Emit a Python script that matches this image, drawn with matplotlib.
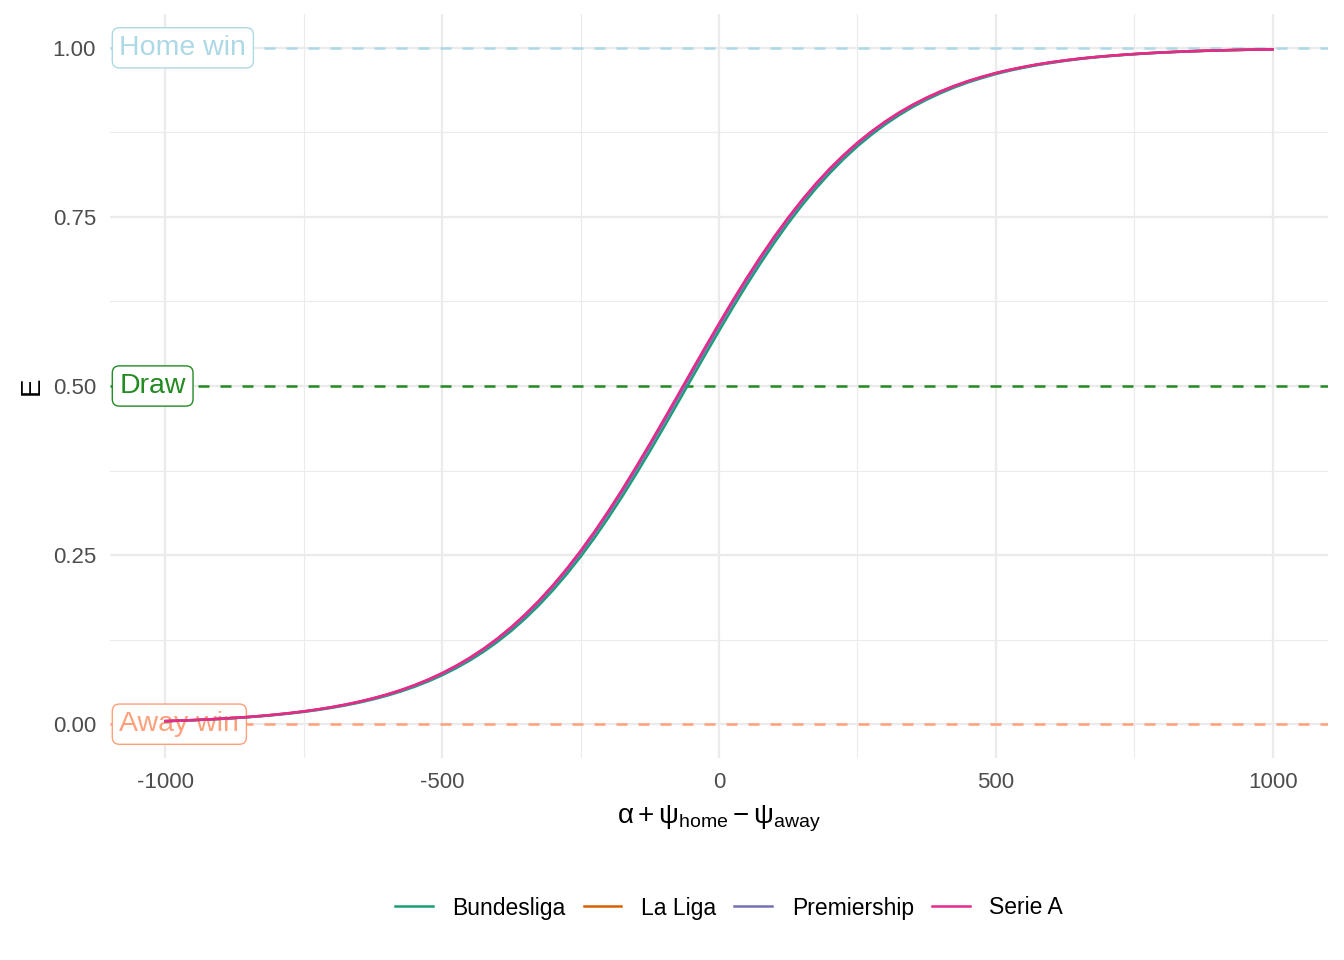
import matplotlib
matplotlib.use("Agg")
import matplotlib.pyplot as plt
from matplotlib.lines import Line2D

plt.rcParams['font.family'] = ['Liberation Sans', 'DejaVu Sans']
plt.rcParams['mathtext.fontset'] = 'custom'
plt.rcParams['mathtext.rm'] = 'Liberation Sans'
plt.rcParams['mathtext.it'] = 'Liberation Sans:italic'
plt.rcParams['mathtext.bf'] = 'Liberation Sans:bold'
plt.rcParams['axes.unicode_minus'] = False

x_vals = list(range(-1000, 1001, 25))

serie_a = [0.00458, 0.00528, 0.00609, 0.00703, 0.00811, 0.00935, 0.01078, 0.01243,
           0.01433, 0.01651, 0.01902, 0.02190, 0.02520, 0.02899, 0.03332, 0.03829,
           0.04395, 0.05040, 0.05777, 0.06610, 0.07559, 0.08628, 0.09830, 0.1118,
           0.1269, 0.1437, 0.1624, 0.1829, 0.2054, 0.2299, 0.2563, 0.2847,
           0.3149, 0.3467, 0.3801, 0.4145, 0.4498, 0.4856, 0.5216, 0.5573,
           0.5924, 0.6267, 0.6597, 0.6912, 0.7211, 0.7491, 0.7752, 0.7993,
           0.8214, 0.8415, 0.8598, 0.8762, 0.8910, 0.9042, 0.9160, 0.9264,
           0.9356, 0.9438, 0.9510, 0.9572, 0.9628, 0.9676, 0.9718, 0.9755,
           0.9787, 0.9815, 0.9840, 0.9861, 0.9879, 0.9895, 0.9909, 0.9921,
           0.9932, 0.9941, 0.9949, 0.9956, 0.9961, 0.9967, 0.9971, 0.9975, 0.9978]

bundesliga = [0.00437, 0.00504, 0.00581, 0.00671, 0.00774, 0.00892, 0.01029, 0.01187,
              0.01368, 0.01576, 0.01816, 0.02091, 0.02407, 0.02770, 0.03184, 0.03660,
              0.04201, 0.04820, 0.05526, 0.06326, 0.07237, 0.08265, 0.09422, 0.1072,
              0.1218, 0.1380, 0.1561, 0.1760, 0.1979, 0.2218, 0.2475, 0.2753,
              0.3050, 0.3363, 0.3693, 0.4033, 0.4384, 0.4741, 0.5101, 0.5460,
              0.5813, 0.6159, 0.6494, 0.6814, 0.7118, 0.7405, 0.7672, 0.7919,
              0.8146, 0.8354, 0.8543, 0.8712, 0.8865, 0.9002, 0.9125, 0.9233,
              0.9328, 0.9414, 0.9489, 0.9553, 0.9612, 0.9662, 0.9705, 0.9744,
              0.9777, 0.9807, 0.9833, 0.9855, 0.9874, 0.9890, 0.9905, 0.9917,
              0.9929, 0.9938, 0.9947, 0.9954, 0.9959, 0.9965, 0.9970, 0.9974, 0.9977]

la_liga = [0.00455, 0.00525, 0.00606, 0.00699, 0.00806, 0.00930, 0.01072, 0.01236,
           0.01425, 0.01642, 0.01891, 0.02178, 0.02506, 0.02883, 0.03313, 0.03808,
           0.04371, 0.05012, 0.05746, 0.06574, 0.07519, 0.08583, 0.09779, 0.1112,
           0.1263, 0.1430, 0.1616, 0.1820, 0.2045, 0.2289, 0.2552, 0.2835,
           0.3137, 0.3454, 0.3787, 0.4131, 0.4484, 0.4842, 0.5202, 0.5559,
           0.5910, 0.6254, 0.6584, 0.6900, 0.7199, 0.7480, 0.7742, 0.7984,
           0.8206, 0.8407, 0.8591, 0.8756, 0.8904, 0.9037, 0.9156, 0.9260,
           0.9353, 0.9435, 0.9507, 0.9570, 0.9626, 0.9674, 0.9716, 0.9754,
           0.9786, 0.9814, 0.9839, 0.9860, 0.9878, 0.9894, 0.9908, 0.9921,
           0.9932, 0.9941, 0.9949, 0.9956, 0.9961, 0.9967, 0.9971, 0.9975, 0.9978]

premiership = [0.00450, 0.00519, 0.00599, 0.00691, 0.00797, 0.00919, 0.01060, 0.01222,
               0.01409, 0.01623, 0.01870, 0.02153, 0.02478, 0.02850, 0.03276, 0.03765,
               0.04322, 0.04957, 0.05683, 0.06503, 0.07438, 0.08492, 0.09677, 0.1101,
               0.1250, 0.1416, 0.1600, 0.1803, 0.2026, 0.2268, 0.2530, 0.2812,
               0.3112, 0.3428, 0.3760, 0.4103, 0.4455, 0.4813, 0.5173, 0.5530,
               0.5882, 0.6227, 0.6558, 0.6875, 0.7176, 0.7459, 0.7722, 0.7965,
               0.8189, 0.8392, 0.8577, 0.8743, 0.8893, 0.9027, 0.9147, 0.9252,
               0.9346, 0.9429, 0.9502, 0.9565, 0.9622, 0.9671, 0.9713, 0.9751,
               0.9783, 0.9812, 0.9837, 0.9859, 0.9877, 0.9893, 0.9907, 0.9920,
               0.9931, 0.9940, 0.9948, 0.9955, 0.9960, 0.9967, 0.9971, 0.9975, 0.9978]

leagues = ["Bundesliga", "La Liga", "Premiership", "Serie A"]
series = [bundesliga, la_liga, premiership, serie_a]
colors = ["#1B9E77", "#D95F02", "#7570B3", "#E7298A"]

outcome_labels = ["Home win", "Draw", "Away win"]
outcome_values = [1.0, 0.5, 0.0]
outcome_colors = ["#ADD8E6", "#228B22", "#FFA07A"]

x_ticks = [-1000, -500, 0, 500, 1000]
x_minor = [-750, -250, 250, 750]
y_ticks = [0.0, 0.25, 0.5, 0.75, 1.0]
y_tick_labels = ["0.00", "0.25", "0.50", "0.75", "1.00"]
y_minor = [0.125, 0.375, 0.625, 0.875]

fig = plt.figure(figsize=(13.44, 9.6), dpi=100)
ax = fig.add_axes([110 / 1344, (960 - 758) / 960, (1328 - 110) / 1344, (758 - 14) / 960])
ax.set_xlim(-1100, 1100)
ax.set_ylim(-0.05, 1.05)

for s in ax.spines.values():
    s.set_visible(False)

ax.set_xticks(x_ticks)
ax.set_xticks(x_minor, minor=True)
ax.set_yticks(y_ticks)
ax.set_yticklabels(y_tick_labels)
ax.set_yticks(y_minor, minor=True)
ax.grid(which='major', color='#EBEBEB', linewidth=1.6)
ax.grid(which='minor', color='#EBEBEB', linewidth=0.8)
ax.set_axisbelow(True)
ax.tick_params(which='both', length=0)
ax.tick_params(axis='y', labelsize=16, labelcolor='#4D4D4D', pad=10)
ax.tick_params(axis='x', labelsize=16, labelcolor='#4D4D4D', pad=10)

for val, col in zip(outcome_values, outcome_colors):
    ax.axhline(val, color=col, linestyle=(0, (4.4, 4.4)), linewidth=1.8, zorder=2)

for lab, val, col in zip(outcome_labels, outcome_values, outcome_colors):
    ax.text(-1083, val, lab, color=col, fontsize=20.5, ha='left', va='center', zorder=2.5,
            bbox=dict(boxstyle='round,pad=0.25,rounding_size=0.25', fc='white', ec=col, lw=1.0))

for ys, col in zip(series, colors):
    ax.plot(x_vals, ys, color=col, linewidth=1.8, zorder=3)

ax.set_xlabel(r'$\mathrm{\alpha} + \mathrm{\psi}_{\mathrm{home}} - \mathrm{\psi}_{\mathrm{away}}$',
              fontsize=20, labelpad=8)
ax.set_ylabel('E', fontsize=20, labelpad=6)

handles = [Line2D([0], [0], color=c, lw=1.8) for c in colors]
fig.legend(handles, leagues, loc='center', bbox_to_anchor=(0.5424, 1 - 908 / 960), ncol=4,
           frameon=False, fontsize=16.5, handlelength=1.65, columnspacing=0.8, handletextpad=0.85)

fig.savefig("out.png", dpi=100, facecolor='white')
